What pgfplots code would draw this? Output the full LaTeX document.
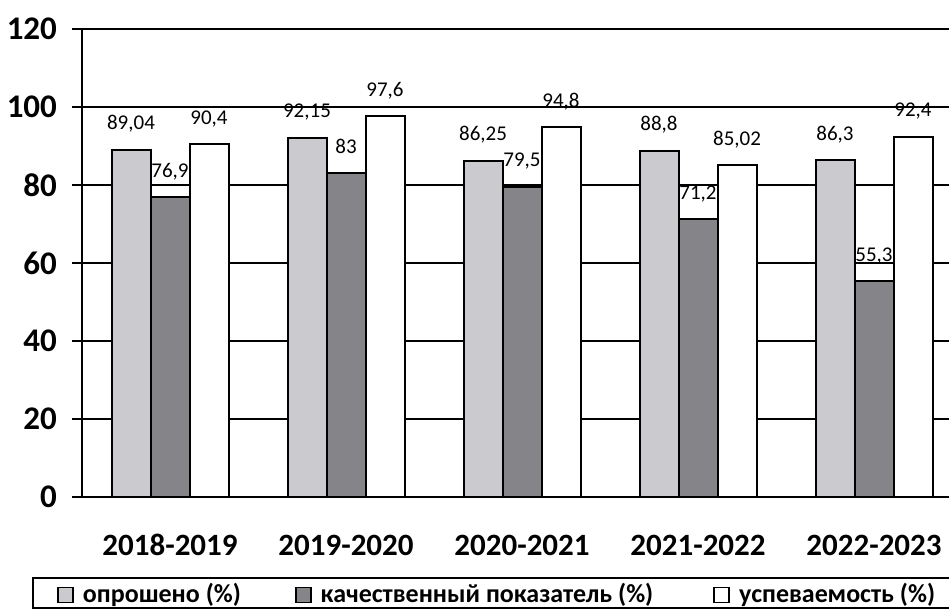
\documentclass[border=0pt]{standalone}
\usepackage{fontspec}
\setmainfont{Carlito}
\usepackage{pgfplots}
\pgfplotsset{compat=1.18}
\definecolor{lg}{RGB}{202,202,207}
\definecolor{dg}{RGB}{132,132,137}
\begin{document}
\begin{tikzpicture}
\begin{axis}[
  name=ax,
  scale only axis, width=433.5pt, height=234pt,
  xmin=-0.5, xmax=4.426, ymin=0, ymax=120,
  axis lines*=left,
  axis line style={-, line width=1.2pt, black},
  ytick={0,20,...,120},
  ymajorgrids, major grid style={black, line width=1pt},
  xtick={0,...,4},
  xticklabels={2018-2019,2019-2020,2020-2021,2021-2022,2022-2023},
  xtick style={draw=none},
  minor xtick={-0.5,0.5,1.5,2.5,3.5},
  minor tick length=7pt,
  minor x tick style={black, line width=1pt},
  major tick length=5pt,
  ytick style={black, line width=1pt},
  tick align=outside,
  xticklabel style={font=\fontsize{15.5}{16}\selectfont\bfseries, anchor=base, yshift=-24.5pt},
  yticklabel style={font=\fontsize{16.5}{17}\selectfont\bfseries, xshift=-4pt},
  /pgf/number format/assume math mode=true,
  /pgf/number format/use comma,
  ybar=0pt, bar width=19.5pt,
  nodes near coords,
  every node near coord/.append style={font=\fontsize{10.5}{11}\selectfont, anchor=base, yshift=10pt},
  legend columns=3,
  legend style={draw=none, fill=none, at={(rel axis cs:-0.036,-0.209)}, anchor=west,
    font=\fontsize{13}{14}\selectfont\bfseries,
    /tikz/column 2/.style={column sep=25pt},
    /tikz/column 4/.style={column sep=28pt}},
  legend image code/.code={\draw[#1, line width=0.8pt] (0pt,-3.75pt) rectangle (7.5pt,3.75pt); \path (10pt,0pt);},
  clip=false,
]
\addplot[draw=black, line width=1pt, fill=lg] coordinates {(0,89.04) (1,92.15) (2,86.25) (3,88.8) (4,86.3)};
\addplot[draw=black, line width=1pt, fill=dg] coordinates {(0,76.9) (1,83) (2,79.5) (3,71.2) (4,55.3)};
\addplot[draw=black, line width=1pt, fill=white] coordinates {(0,90.4) (1,97.6) (2,94.8) (3,85.02) (4,92.4)};
\legend{опрошено (\%), качественный показатель (\%), успеваемость (\%)}
\end{axis}
\draw[line width=1pt] ([xshift=-24.5pt,yshift=-40.5pt]ax.south west) rectangle ([xshift=30pt,yshift=-55.5pt]ax.south east);
\pgfresetboundingbox
\path[use as bounding box] ([xshift=-41pt, yshift=-56pt]ax.south west) rectangle ([yshift=14.5pt]ax.north east);
\end{tikzpicture}
\end{document}
